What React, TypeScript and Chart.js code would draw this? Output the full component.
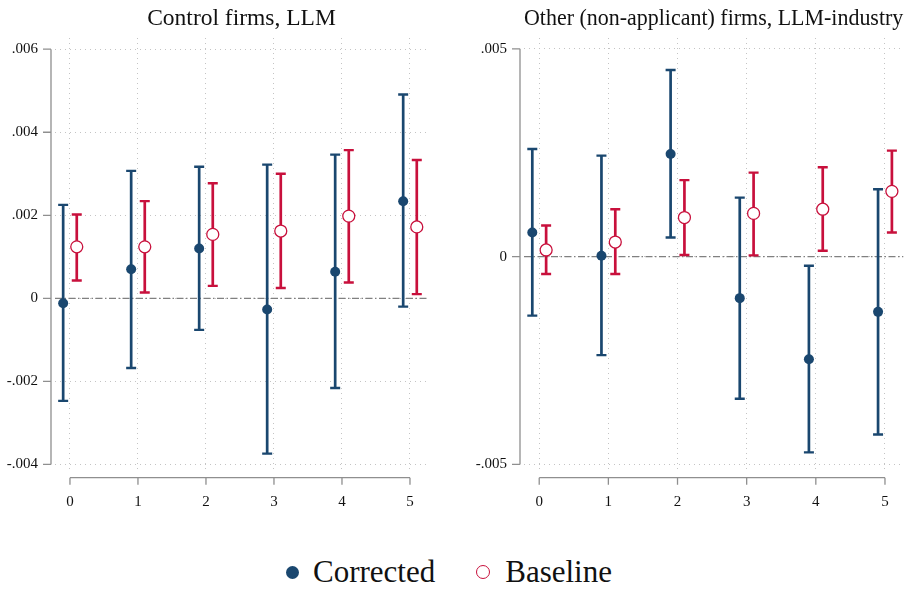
import React, { useEffect, useRef } from "react";
import { Chart, registerables } from "chart.js";

Chart.register(...registerables);

const categories = [0, 1, 2, 3, 4, 5];

// Left panel: Control firms, LLM
const leftCorrected = [-0.00012, 0.0007, 0.0012, -0.00027, 0.00064, 0.00234];
const leftCorrectedLo = [-0.00247, -0.00168, -0.00076, -0.00374, -0.00216, -0.0002];
const leftCorrectedHi = [0.00225, 0.00307, 0.00317, 0.00322, 0.00346, 0.00491];
const leftBaseline = [0.00124, 0.00124, 0.00154, 0.00162, 0.00198, 0.00172];
const leftBaselineLo = [0.00043, 0.00014, 0.0003, 0.00025, 0.00038, 0.0001];
const leftBaselineHi = [0.00202, 0.00234, 0.00277, 0.003, 0.00357, 0.00333];
const leftYTicks = [-0.004, -0.002, 0, 0.002, 0.004, 0.006];

// Right panel: Other (non-applicant) firms, LLM-industry
const rightCorrected = [0.00058, 0.00002, 0.00247, -0.001, -0.00247, -0.00133];
const rightCorrectedLo = [-0.00142, -0.00237, 0.00046, -0.00342, -0.00471, -0.00428];
const rightCorrectedHi = [0.00259, 0.00243, 0.00449, 0.00142, -0.00022, 0.00162];
const rightBaseline = [0.00016, 0.00035, 0.00094, 0.00104, 0.00114, 0.00157];
const rightBaselineLo = [-0.00042, -0.00042, 0.00004, 0.00003, 0.00014, 0.00058];
const rightBaselineHi = [0.00075, 0.00114, 0.00184, 0.00202, 0.00215, 0.00255];
const rightYTicks = [-0.005, 0, 0.005];

const NAVY = "#1a476f";
const RED = "#c8103c";
const AXIS = "#8f8f8f";
const GRID = "#c4c4c4";
const FONT = "'Liberation Serif', 'Times New Roman', serif";
const DODGE = 0.1;

function fmt(v: number): string {
  if (v === 0) return "0";
  const s = Math.abs(v).toString().replace(/^0/, "");
  return (v < 0 ? "-" : "") + s;
}

const decorPlugin = {
  id: "decor",
  beforeDatasetsDraw(chart: any) {
    const ctx = chart.ctx;
    const xs = chart.scales.x;
    const ys = chart.scales.y;
    const area = chart.chartArea;
    const yt: number[] = chart.options.plugins.decor.yTicks;
    ctx.save();
    // zero line
    ctx.strokeStyle = "#808080";
    ctx.lineWidth = 1.3;
    ctx.setLineDash([7, 2.5, 1.5, 2.5]);
    const y0 = ys.getPixelForValue(0);
    ctx.beginPath();
    ctx.moveTo(area.left, y0);
    ctx.lineTo(area.right, y0);
    ctx.stroke();
    ctx.setLineDash([]);
    // y axis
    const ax = area.left - 4;
    ctx.strokeStyle = AXIS;
    ctx.lineWidth = 1.3;
    ctx.beginPath();
    ctx.moveTo(ax, ys.getPixelForValue(yt[0]));
    ctx.lineTo(ax, ys.getPixelForValue(yt[yt.length - 1]));
    for (const t of yt) {
      const p = ys.getPixelForValue(t);
      ctx.moveTo(ax - 8, p);
      ctx.lineTo(ax, p);
    }
    ctx.stroke();
    // x axis
    const ay = area.bottom + 5;
    ctx.beginPath();
    ctx.moveTo(xs.getPixelForValue(categories[0]), ay);
    ctx.lineTo(xs.getPixelForValue(categories[categories.length - 1]), ay);
    for (const c of categories) {
      const p = xs.getPixelForValue(c);
      ctx.moveTo(p, ay);
      ctx.lineTo(p, ay + 7);
    }
    ctx.stroke();
    // error bars
    chart.data.datasets.forEach((ds: any) => {
      ctx.strokeStyle = ds.barColor;
      ctx.lineCap = "butt";
      ds.data.forEach((pt: any, i: number) => {
        const px = xs.getPixelForValue(pt.x);
        const lo = ys.getPixelForValue(ds.lo[i]);
        const hi = ys.getPixelForValue(ds.hi[i]);
        ctx.lineWidth = 2.7;
        ctx.beginPath();
        ctx.moveTo(px, lo);
        ctx.lineTo(px, hi);
        ctx.stroke();
        ctx.lineWidth = 2.4;
        ctx.beginPath();
        ctx.moveTo(px - 5, lo);
        ctx.lineTo(px + 5, lo);
        ctx.moveTo(px - 5, hi);
        ctx.lineTo(px + 5, hi);
        ctx.stroke();
      });
    });
    ctx.restore();
  },
};

type PanelProps = {
  title: string;
  corrected: number[];
  correctedLo: number[];
  correctedHi: number[];
  baseline: number[];
  baselineLo: number[];
  baselineHi: number[];
  yTicks: number[];
  yMin: number;
  yMax: number;
  yWidth: number;
  padRight: number;
};

function Panel(p: PanelProps) {
  const ref = useRef<HTMLCanvasElement | null>(null);
  useEffect(() => {
    if (!ref.current) return;
    const chart = new Chart(ref.current, {
      type: "scatter",
      data: {
        datasets: [
          {
            label: "Corrected",
            data: categories.map((c, i) => ({ x: c - DODGE, y: p.corrected[i] })),
            lo: p.correctedLo,
            hi: p.correctedHi,
            barColor: NAVY,
            pointRadius: 5,
            pointBackgroundColor: NAVY,
            pointBorderWidth: 0,
            showLine: false,
          } as any,
          {
            label: "Baseline",
            data: categories.map((c, i) => ({ x: c + DODGE, y: p.baseline[i] })),
            lo: p.baselineLo,
            hi: p.baselineHi,
            barColor: RED,
            pointRadius: 6,
            pointBackgroundColor: "#ffffff",
            pointBorderColor: RED,
            pointBorderWidth: 1.3,
            showLine: false,
          } as any,
        ],
      },
      options: {
        responsive: false,
        animation: false,
        events: [],
        layout: { padding: { left: 0, right: p.padRight, top: 0, bottom: 0 } },
        plugins: {
          legend: { display: false },
          tooltip: { enabled: false },
          title: {
            display: true,
            text: p.title,
            fullSize: false,
            color: "#111111",
            font: { family: FONT, size: 23.5, weight: "normal", lineHeight: 1.2 },
            padding: { top: 4.5, bottom: 5.3 },
          },
          decor: { yTicks: p.yTicks },
        } as any,
        scales: {
          x: {
            type: "linear",
            min: -0.22,
            max: 5.265,
            afterBuildTicks: (s: any) => {
              s.ticks = categories.map((v) => ({ value: v }));
            },
            afterFit: (s: any) => {
              s.height = 47.3;
            },
            ticks: {
              color: "#111111",
              font: { family: FONT, size: 15 },
              padding: 20,
              callback: (v: any) => String(v),
            },
            grid: { color: GRID, lineWidth: 1, drawTicks: false },
            border: { display: false, dash: [1, 4] },
          },
          y: {
            type: "linear",
            min: p.yMin,
            max: p.yMax,
            afterBuildTicks: (s: any) => {
              s.ticks = p.yTicks.map((v) => ({ value: v }));
            },
            afterFit: (s: any) => {
              s.width = p.yWidth;
            },
            ticks: {
              color: "#111111",
              font: { family: FONT, size: 15 },
              padding: 17,
              callback: (v: any) => fmt(Number(v)),
            },
            grid: { color: GRID, lineWidth: 1, drawTicks: false },
            border: { display: false, dash: [1, 4] },
          },
        },
      } as any,
      plugins: [decorPlugin],
    });
    return () => chart.destroy();
  }, []);
  return <canvas ref={ref} width={459} height={520} style={{ display: "block" }} />;
}

export default function App() {
  return (
    <div
      style={{
        position: "absolute",
        left: 0,
        top: 0,
        width: 918,
        height: 590,
        background: "#ffffff",
        fontFamily: FONT,
      }}
    >
      <div style={{ position: "absolute", left: 0, top: 0 }}>
        <Panel
          title="Control firms, LLM"
          corrected={leftCorrected}
          correctedLo={leftCorrectedLo}
          correctedHi={leftCorrectedHi}
          baseline={leftBaseline}
          baselineLo={leftBaselineLo}
          baselineHi={leftBaselineHi}
          yTicks={leftYTicks}
          yMin={-0.0042}
          yMax={0.00627}
          yWidth={55}
          padRight={31}
        />
      </div>
      <div style={{ position: "absolute", left: 459, top: 0 }}>
        <Panel
          title="Other (non-applicant) firms, LLM-industry"
          corrected={rightCorrected}
          correctedLo={rightCorrectedLo}
          correctedHi={rightCorrectedHi}
          baseline={rightBaseline}
          baselineLo={rightBaselineLo}
          baselineHi={rightBaselineHi}
          yTicks={rightYTicks}
          yMin={-0.0052}
          yMax={0.00526}
          yWidth={65}
          padRight={14.7}
        />
      </div>
      <div
        style={{
          position: "absolute",
          left: 286,
          top: 552,
          height: 40,
          display: "flex",
          alignItems: "center",
          fontSize: 31,
          color: "#111111",
          lineHeight: "40px",
          whiteSpace: "nowrap",
        }}
      >
        <span
          style={{
            display: "inline-block",
            width: 13,
            height: 13,
            borderRadius: "50%",
            background: NAVY,
            marginRight: 14,
          }}
        />
        <span>Corrected</span>
        <span
          style={{
            display: "inline-block",
            width: 12,
            height: 12,
            borderRadius: "50%",
            border: `1.4px solid ${RED}`,
            marginLeft: 41,
            marginRight: 15,
          }}
        />
        <span>Baseline</span>
      </div>
    </div>
  );
}
